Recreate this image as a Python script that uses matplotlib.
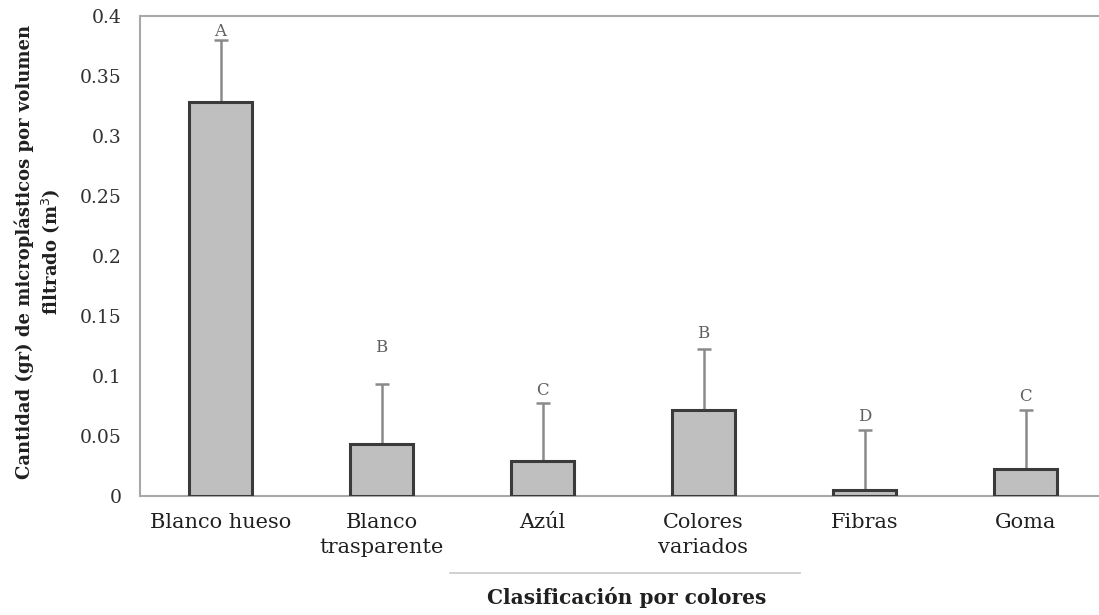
import numpy as np
import matplotlib.pyplot as plt

plt.rcParams['font.family'] = ['DejaVu Serif']

# Data
categorias = ['Blanco hueso', 'Blanco\ntrasparente', 'Azúl', 'Colores\nvariados', 'Fibras', 'Goma']
medias = [0.328, 0.043, 0.029, 0.072, 0.005, 0.0225]
errores = [0.052, 0.050, 0.0485, 0.0505, 0.050, 0.0495]
letras = ['A', 'B', 'C', 'B', 'D', 'C']
# distancia de la letra sobre la barra de error
sep_letra = [0.0, 0.024, 0.003, 0.006, 0.004, 0.004]

fig = plt.figure(figsize=(10.99, 6.15), dpi=100)
ax = fig.add_axes([140/1099, 1 - 496/615, 966/1099, 480/615])

x = np.arange(len(categorias))
ax.bar(x, medias, width=0.39, color='#bfbfbf', edgecolor='#3a3a3a', linewidth=2.2, zorder=3)
ax.errorbar(x, medias, yerr=[np.zeros(len(x)), errores], fmt='none',
            ecolor='#8a8a8a', elinewidth=1.8, capsize=5, capthick=1.8, zorder=2)

for xi, m, e, l, s in zip(x, medias, errores, letras, sep_letra):
    ax.text(xi, m + e + s, l, ha='center', va='bottom', fontsize=12, color='#606060')

ax.set_xlim(-0.5, len(categorias) - 0.5)
ax.set_ylim(0, 0.4)
ax.set_yticks(np.arange(0, 0.41, 0.05))
ax.set_yticklabels(['0', '0.05', '0.1', '0.15', '0.2', '0.25', '0.3', '0.35', '0.4'])
ax.set_xticks(x)
ax.set_xticklabels(categorias, fontsize=15, color='#202020', linespacing=1.45)
ax.tick_params(axis='y', length=0, labelsize=13.5, labelcolor='#303030', pad=13)
ax.tick_params(axis='x', length=0, pad=12)

for s in ax.spines.values():
    s.set_color('#a8a8a8')
    s.set_linewidth(1.5)

# etiqueta del eje y
fig.text(38/1099, 1 - 252/615, 'Cantidad (gr) de microplásticos por volumen\nfiltrado (m$^3$)',
         rotation=90, ha='center', va='center', multialignment='center',
         fontsize=13, fontweight='bold', color='#202020', linespacing=1.3)

# caja de la etiqueta del eje x
fig.add_artist(plt.Line2D([450/1099, 800/1099], [1 - 573/615, 1 - 573/615],
                          color='#c8c8c8', linewidth=1.2))
fig.text(627/1099, 1 - 598/615, 'Clasificación por colores', ha='center', va='center',
         fontsize=14.5, fontweight='bold', color='#202020')

fig.savefig('out.png', dpi=100)
